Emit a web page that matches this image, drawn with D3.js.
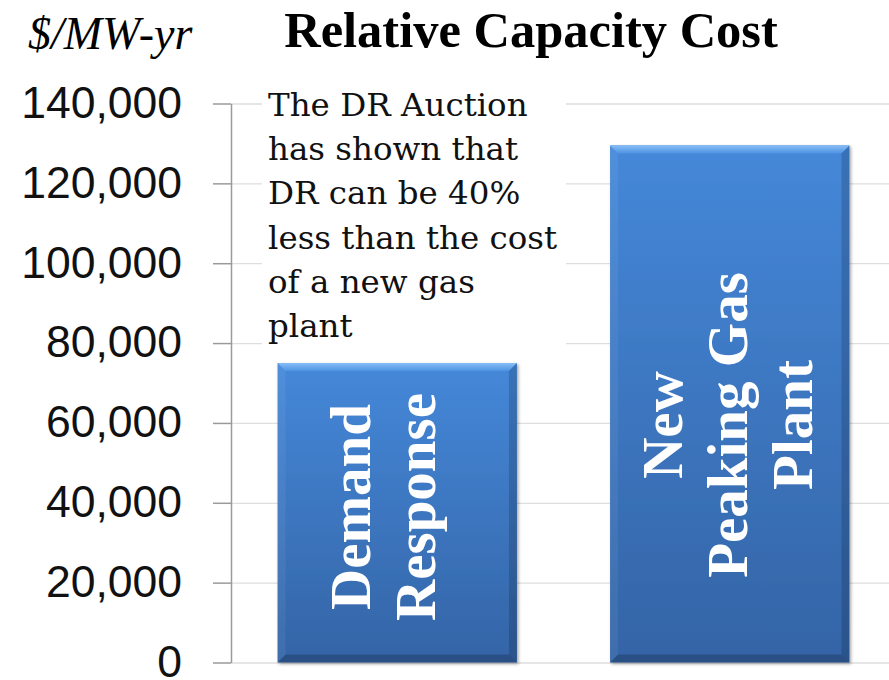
<!DOCTYPE html>
<html>
<head>
<meta charset="utf-8">
<script src="https://cdn.jsdelivr.net/npm/d3@7"></script>
<style>
  body { margin: 0; background: #fff; }
  svg { display: block; }
</style>
</head>
<body>
<div id="chart"></div>
<script>
// chart data
const categories = ['Demand Response', 'New Peaking Gas Plant']
const labelLines = [['Demand', 'Response'], ['New', 'Peaking Gas', 'Plant']]
const costs = [75000, 129500]
const yTicks = [0, 20000, 40000, 60000, 80000, 100000, 120000, 140000]
const noteLines = ['The DR Auction', 'has shown that', 'DR can be 40%', 'less than the cost', 'of a new gas', 'plant']
const titleText = 'Relative Capacity Cost'
const unitText = '$/MW-yr'

const W = 889, H = 680
const margin = {top: 103.5, right: -7, bottom: 17.5, left: 231}
const height = H - margin.top - margin.bottom
const width = W - margin.left - margin.right

const svg = d3.select('#chart').append('svg')
  .attr('width', W)
  .attr('height', H)

const defs = svg.append('defs')
const barGrad = defs.append('linearGradient')
  .attr('id', 'barGrad').attr('x1', 0).attr('y1', 0).attr('x2', 0).attr('y2', 1)
barGrad.append('stop').attr('offset', '0%').attr('stop-color', '#4588d9')
barGrad.append('stop').attr('offset', '100%').attr('stop-color', '#3464a6')
const topGrad = defs.append('linearGradient')
  .attr('id', 'topGrad').attr('x1', 0).attr('y1', 0).attr('x2', 0).attr('y2', 1)
topGrad.append('stop').attr('offset', '0%').attr('stop-color', '#86bdf7')
topGrad.append('stop').attr('offset', '100%').attr('stop-color', '#4f93e2')
const shadow = defs.append('filter').attr('id', 'shadow')
  .attr('x', '-10%').attr('y', '-10%').attr('width', '120%').attr('height', '120%')
shadow.append('feDropShadow')
  .attr('dx', 1.5).attr('dy', 1.5).attr('stdDeviation', 1.5)
  .attr('flood-color', '#000').attr('flood-opacity', 0.35)

const x = d3.scaleBand()
  .domain(categories)
  .range([0, 665])
  .paddingInner(0.28)
  .paddingOuter(0.14)
const y = d3.scaleLinear()
  .domain([0, 140000])
  .range([height, 0])

const chart = svg.append('g')
  .attr('transform', `translate(${margin.left}, ${margin.top})`)

// gridlines
chart.append('g')
  .call(d3.axisLeft(y).tickValues(yTicks).tickSize(-width).tickFormat(''))
  .call((g) => g.select('.domain').remove())
  .selectAll('line')
    .attr('stroke', '#dedede')
    .attr('stroke-width', 1.3)

// bars
const bevel = 8
const bars = chart.selectAll('.bar').data(costs)
  .enter().append('g')
    .attr('class', 'bar')
    .attr('filter', 'url(#shadow)')
bars.append('rect')
  .attr('x', (d, i) => x(categories[i]))
  .attr('y', (d) => y(d))
  .attr('width', x.bandwidth())
  .attr('height', (d) => height - y(d))
  .attr('fill', 'url(#barGrad)')
// bevel edges
bars.append('path')
  .attr('fill', 'url(#topGrad)')
  .attr('d', (d, i) => {
    const x0 = x(categories[i]), x1 = x0 + x.bandwidth(), y0 = y(d)
    return `M${x0},${y0}L${x1},${y0}L${x1 - bevel},${y0 + bevel}L${x0 + bevel},${y0 + bevel}Z`
  })
bars.append('path')
  .attr('fill', 'rgba(255,255,255,0.06)')
  .attr('d', (d, i) => {
    const x0 = x(categories[i]), y0 = y(d)
    return `M${x0},${y0}L${x0 + bevel},${y0 + bevel}L${x0 + bevel},${height - bevel}L${x0},${height}Z`
  })
bars.append('path')
  .attr('fill', 'rgba(0,0,0,0.16)')
  .attr('d', (d, i) => {
    const x1 = x(categories[i]) + x.bandwidth(), y0 = y(d)
    return `M${x1},${y0}L${x1 - bevel},${y0 + bevel}L${x1 - bevel},${height - bevel}L${x1},${height}Z`
  })
bars.append('path')
  .attr('fill', 'rgba(0,0,0,0.2)')
  .attr('d', (d, i) => {
    const x0 = x(categories[i]), x1 = x0 + x.bandwidth()
    return `M${x0},${height}L${x0 + bevel},${height - bevel}L${x1 - bevel},${height - bevel}L${x1},${height}Z`
  })

// rotated category labels inside bars
const labelShift = [5, 17]
const labelCenter = [-155.5, -237.5]
const lineGap = 65
const labels = chart.selectAll('.bar-label').data(labelLines)
  .enter().append('g')
    .attr('class', 'bar-label')
    .attr('transform', (d, i) => {
      const cx = x(categories[i]) + x.bandwidth() / 2 + labelShift[i]
      const cy = height + labelCenter[i]
      return `translate(${cx}, ${cy}) rotate(-90)`
    })
labels.selectAll('text').data((d) => d.map((t, j) => ({t, j, n: d.length})))
  .enter().append('text')
    .text((d) => d.t)
    .attr('x', 0)
    .attr('y', (d) => (d.j - (d.n - 1) / 2) * lineGap)
    .attr('text-anchor', 'middle')
    .attr('fill', '#fff')
    .attr('font-family', '"Liberation Serif", serif')
    .attr('font-weight', 'bold')
    .attr('font-size', 57)

// y axis
const axis = chart.append('g')
  .call(d3.axisLeft(y).tickValues(yTicks).tickSize(18).tickSizeOuter(0).tickPadding(31)
    .tickFormat(d3.format(',')))
axis.select('.domain').attr('stroke', '#9a9a9a').attr('stroke-width', 1.5)
axis.selectAll('.tick line').attr('stroke', '#9a9a9a').attr('stroke-width', 1.5)
axis.selectAll('.tick text')
  .attr('dy', '0.31em')
  .attr('fill', '#111')
  .attr('font-family', '"Liberation Sans", Arial, sans-serif')
  .attr('font-size', 44.5)

// annotation box
const note = svg.append('g')
note.append('rect')
  .attr('x', 262).attr('y', 84)
  .attr('width', 304).attr('height', 268)
  .attr('fill', '#fff')
note.selectAll('text').data(noteLines)
  .enter().append('text')
    .text((d) => d)
    .attr('x', 268)
    .attr('y', (d, i) => 116 + i * 44.2)
    .attr('fill', '#111')
    .attr('font-family', '"DejaVu Serif", serif')
    .attr('font-size', 32.5)

// title and unit
svg.append('text')
  .text(titleText)
  .attr('x', 531).attr('y', 47)
  .attr('text-anchor', 'middle')
  .attr('font-family', '"Liberation Serif", serif')
  .attr('font-weight', 'bold')
  .attr('font-size', 50.5)
  .attr('fill', '#000')
svg.append('text')
  .text(unitText)
  .attr('x', 28).attr('y', 49)
  .attr('font-family', '"Liberation Serif", serif')
  .attr('font-style', 'italic')
  .attr('font-size', 46)
  .attr('fill', '#000')
</script>
</body>
</html>
